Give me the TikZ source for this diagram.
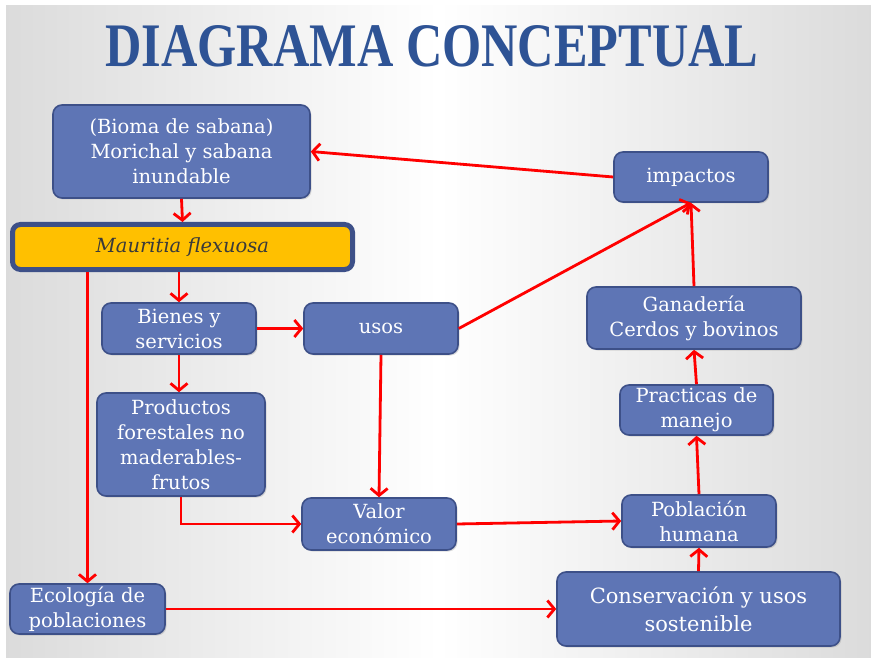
\documentclass[tikz,border=0pt]{standalone}
\usepackage{fontspec}
\setmainfont{DejaVu Serif}
\newfontfamily\titlefont{Liberation Serif}
\usetikzlibrary{arrows.meta,shadows,calc}
\definecolor{boxfill}{HTML}{5E75B5}
\definecolor{boxline}{HTML}{3D5088}
\definecolor{titleblue}{HTML}{2E5395}
\definecolor{mauorange}{HTML}{FFC000}
\definecolor{mautext}{HTML}{3A3A3A}
\tikzset{
  cbox/.style={draw=boxline, fill=boxfill, line width=1.6pt, rounded corners=9pt,
    text=white, align=center, inner sep=0pt, font=\fontsize{19.5}{25}\selectfont,
    drop shadow={shadow xshift=1.5pt, shadow yshift=-1.5pt, opacity=0.25}},
  arr/.style={draw=red, line width=2.8pt, -{Straight Barb[length=7pt,width=17pt]}},
}
\begin{document}
\begin{tikzpicture}[x=1pt,y=-1pt]
\useasboundingbox (0,0) rectangle (871,658);
\fill[white] (0,0) rectangle (871,658);
\shade[left color=black!14, right color=black!14, middle color=white] (6,6) rectangle (871,658);
% title
\node[text=titleblue] (title) at (432,46) {\resizebox{653pt}{41pt}{\titlefont\bfseries DIAGRAMA CONCEPTUAL}};
% nodes
\node[cbox, minimum width=257pt, minimum height=93pt] (bio) at (181.5,151.5) {(Bioma de sabana)\\Morichal y sabana\\inundable};
\node[draw=boxline, fill=mauorange, line width=5pt, rounded corners=8pt, minimum width=340pt, minimum height=45pt,
      text=mautext, font=\fontsize{19.5}{25}\selectfont\itshape,
      drop shadow={shadow xshift=1.5pt, shadow yshift=-1.5pt, opacity=0.25}] (mau) at (182.5,247) {Mauritia flexuosa};
\node[cbox, minimum width=154pt, minimum height=51pt] (bie) at (179,328.5) {Bienes y\\servicios};
\node[cbox, minimum width=154pt, minimum height=51pt] (uso) at (381,328.5) {usos};
\node[cbox, minimum width=168pt, minimum height=103pt] (pro) at (181,444.5) {Productos\\forestales no\\maderables-\\frutos};
\node[cbox, minimum width=154pt, minimum height=52pt] (val) at (379,524) {Valor\\económico};
\node[cbox, minimum width=154pt, minimum height=50pt] (imp) at (691,177) {impactos};
\node[cbox, minimum width=214pt, minimum height=62pt] (gan) at (694,318) {Ganadería\\Cerdos y bovinos};
\node[cbox, minimum width=153pt, minimum height=50pt] (pra) at (696.5,410) {Practicas de\\manejo};
\node[cbox, minimum width=154pt, minimum height=52pt] (pob) at (699,521) {Población\\humana};
\node[cbox, minimum width=155pt, minimum height=50pt] (eco) at (87.5,609) {Ecología de\\poblaciones};
\node[cbox, minimum width=283pt, minimum height=74pt, font=\fontsize{21}{28}\selectfont] (con) at (698.5,609) {Conservación y usos\\sostenible};
% connectors
\draw[arr] (imp.west) -- (bio.east);
\draw[arr] (bio.south) -- (mau.north);
\draw[arr] (bie.north |- mau.south) -- (bie.north);
\draw[arr] (eco.north |- mau.south) -- (eco.north);
\draw[arr] (bie.east) -- (uso.west);
\draw[arr] (bie.south) -- (bie.south |- pro.north);
\draw[arr] (uso.east) -- (imp.south);
\draw[arr] (uso.south) -- (val.north);
\draw[arr] (pro.south) |- (val.west);
\draw[arr] (val.east) -- (pob.west);
\draw[arr] (gan.north) -- (imp.south);
\draw[arr] (pra.north) -- (gan.south);
\draw[arr] (pob.north) -- (pra.south);
\draw[arr] (con.north) -- (pob.south);
\draw[arr] (eco.east) -- (con.west);
\end{tikzpicture}
\end{document}
